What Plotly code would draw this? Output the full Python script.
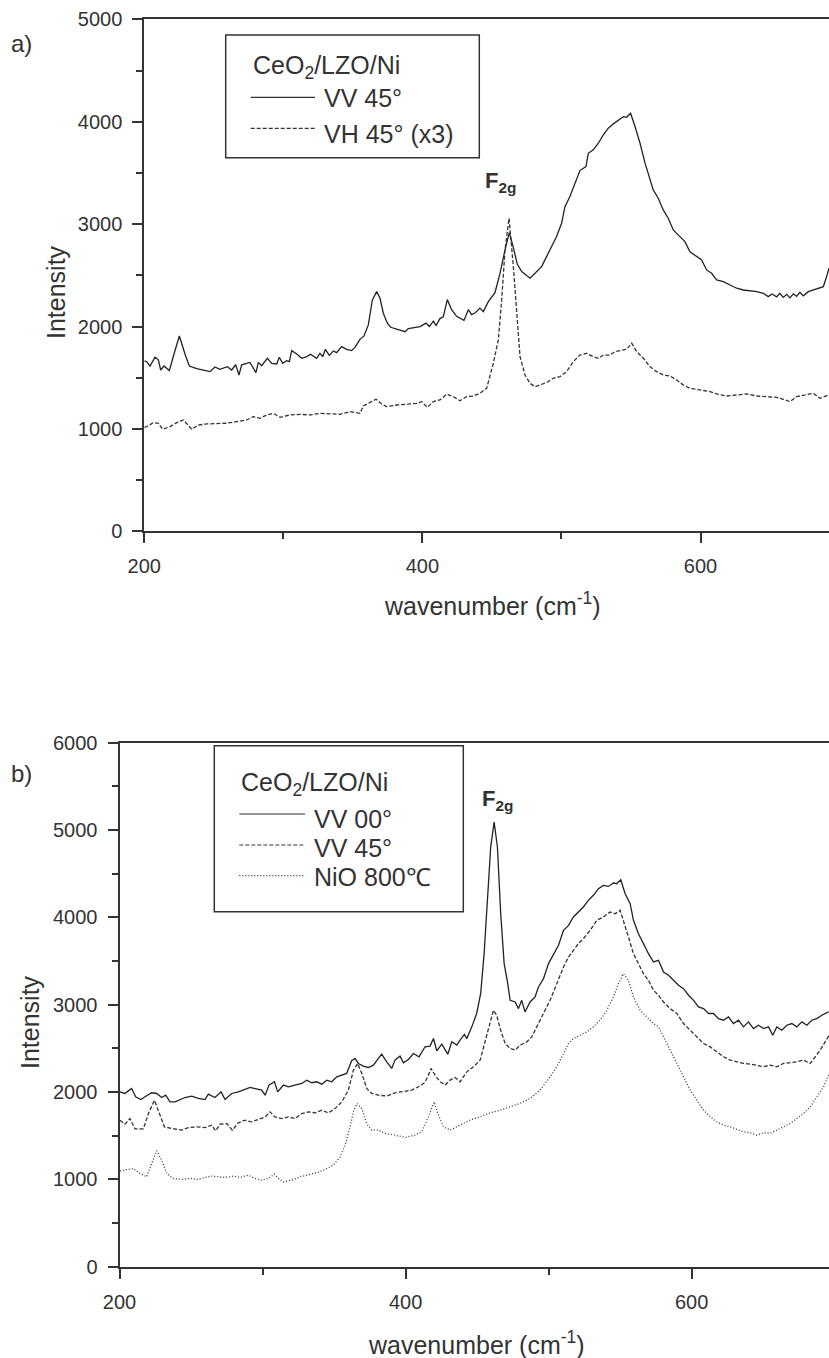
import plotly.graph_objects as go

W, H = 829, 1358

# ---------------- panel a) data ----------------
a_vv45_x = [200.0, 201.7, 204.1, 207.7, 210.1, 211.8, 214.2, 218.0, 220.9, 225.2, 229.3, 232.4, 237.7, 244.8, 247.2,
            250.8, 254.4, 259.7, 262.8, 265.7, 268.1, 270.0, 276.0, 280.3, 282.0, 284.4, 288.5, 291.6, 295.2, 297.1,
            299.5, 302.4, 304.3, 306.0, 309.6, 313.2, 316.8, 319.6, 323.9, 326.3, 328.3, 330.2, 333.1, 335.9, 338.3,
            341.9, 345.5, 349.1, 351.5, 355.1, 358.0, 361.1, 364.0, 367.1, 369.5, 371.9, 374.8, 377.2, 381.5, 387.5,
            389.9, 393.5, 398.3, 402.6, 405.0, 407.9, 409.8, 412.6, 415.0, 417.9, 421.0, 424.6, 427.0, 429.9, 433.0,
            435.4, 437.8, 441.4, 443.8, 447.4, 452.2, 455.8, 459.4, 462.5, 465.4, 468.2, 471.4, 475.0, 477.4, 481.0,
            485.7, 489.3, 492.9, 496.5, 500.1, 502.5, 506.1, 509.7, 513.3, 517.6, 519.3, 522.9, 526.5, 530.1, 533.7,
            537.3, 540.9, 544.5, 546.9, 549.7, 552.9, 556.5, 560.1, 563.6, 566.0, 569.6, 573.2, 576.8, 580.4, 585.2,
            588.8, 592.4, 597.2, 600.8, 604.4, 608.0, 611.6, 616.4, 621.2, 626.0, 630.8, 635.6, 640.4, 645.2, 648.7,
            651.5, 654.7, 657.0, 659.5, 662.0, 664.3, 666.8, 669.1, 671.5, 673.9, 677.5, 681.1, 684.7, 688.3, 690.7,
            692.4]
a_vv45_y = [1665, 1657, 1615, 1700, 1675, 1576, 1615, 1570, 1710, 1908, 1730, 1615, 1590, 1568, 1560,
            1605, 1583, 1608, 1576, 1627, 1527, 1627, 1650, 1550, 1650, 1618, 1690, 1641, 1635, 1700,
            1641, 1667, 1657, 1765, 1732, 1690, 1706, 1729, 1690, 1739, 1706, 1778, 1719, 1762, 1745,
            1804, 1778, 1765, 1797, 1875, 1908, 2016, 2260, 2341, 2276, 2130, 2032, 1993, 1973, 1950,
            1980, 1990, 2000, 2034, 2000, 2053, 2010, 2078, 2095, 2263, 2165, 2100, 2083, 2060, 2165,
            2116, 2132, 2180, 2146, 2243, 2331, 2520, 2748, 2917, 2771, 2611, 2537, 2494, 2472, 2520,
            2585, 2683, 2781, 2879, 3009, 3171, 3269, 3399, 3523, 3562, 3692, 3725, 3790, 3871, 3937,
            3979, 4018, 4050, 4043, 4083, 3953, 3790, 3595, 3432, 3334, 3253, 3139, 3058, 2943, 2878,
            2829, 2731, 2683, 2650, 2553, 2520, 2455, 2439, 2406, 2374, 2357, 2351, 2341, 2325, 2292,
            2318, 2290, 2325, 2285, 2315, 2280, 2320, 2295, 2335, 2300, 2341, 2357, 2374, 2390, 2488,
            2569]

a_vh45_x = [200.0, 201.7, 206.5, 210.1, 213.2, 218.5, 223.3, 228.1, 234.1, 238.9, 244.8, 252.0, 259.2, 266.4,
            273.6, 278.4, 283.2, 288.0, 292.8, 297.6, 304.8, 312.0, 319.2, 326.3, 333.5, 340.7, 347.9, 355.1,
            357.5, 362.3, 366.6, 370.7, 374.3, 381.5, 388.7, 395.9, 399.5, 403.5, 407.8, 412.6, 417.4, 422.2,
            427.0, 431.8, 436.6, 441.4, 446.2, 451.0, 454.6, 457.0, 459.4, 462.3, 465.4, 467.8, 470.2, 473.8,
            477.4, 481.0, 484.5, 489.3, 494.1, 498.9, 503.7, 508.5, 513.3, 518.1, 522.9, 526.5, 530.1, 534.9,
            538.5, 542.1, 546.9, 550.5, 554.1, 558.9, 563.6, 568.4, 573.2, 578.0, 582.8, 587.6, 592.4, 599.6,
            606.8, 611.6, 618.8, 626.0, 633.2, 640.4, 647.6, 654.7, 659.5, 664.3, 669.1, 676.3, 681.1, 685.9,
            692.4]
a_vh45_y = [1015, 1023, 1062, 1056, 997, 1023, 1062, 1088, 997, 1039, 1049, 1056, 1056, 1072,
            1088, 1120, 1104, 1137, 1153, 1114, 1137, 1143, 1137, 1153, 1146, 1143, 1169, 1153,
            1225, 1257, 1290, 1244, 1218, 1234, 1244, 1250, 1267, 1211, 1267, 1283, 1339, 1316,
            1276, 1316, 1322, 1349, 1397, 1642, 1870, 2260, 2748, 3058, 2585, 2130, 1707, 1527,
            1446, 1413, 1430, 1453, 1495, 1511, 1560, 1657, 1722, 1739, 1706, 1690, 1722, 1722,
            1755, 1765, 1778, 1838, 1755, 1691, 1609, 1560, 1527, 1517, 1479, 1430, 1397, 1381,
            1365, 1342, 1322, 1332, 1342, 1322, 1316, 1309, 1290, 1267, 1316, 1332, 1348, 1300,
            1333]

# ---------------- panel b) data ----------------
b_vv00_x = [200.3, 203.8, 206.2, 208.5, 211.3, 215.0, 217.8, 222.5, 226.0, 229.5, 232.3, 235.3, 238.8, 242.3,
            245.8, 250.5, 255.1, 259.8, 262.1, 266.8, 271.0, 273.8, 278.4, 283.1, 287.8, 291.3, 294.8, 299.4,
            301.8, 304.5, 308.3, 310.6, 314.6, 318.1, 322.7, 327.4, 330.9, 334.4, 337.9, 341.4, 344.9, 348.4,
            351.9, 355.4, 358.8, 362.3, 364.7, 367.0, 370.5, 374.0, 377.5, 381.0, 383.3, 386.8, 390.3, 392.6,
            396.1, 398.5, 402.0, 405.5, 409.4, 413.6, 417.1, 419.5, 421.8, 425.3, 429.5, 432.3, 435.8, 438.1,
            441.1, 442.8, 446.3, 449.7, 452.5, 454.9, 457.2, 459.5, 461.9, 464.2, 466.5, 468.9, 471.2, 473.1,
            476.6, 478.9, 481.2, 483.5, 487.0, 490.5, 492.9, 496.4, 499.9, 503.4, 506.9, 510.4, 513.9, 517.3,
            520.8, 524.3, 527.8, 531.3, 534.8, 538.3, 541.8, 545.3, 547.6, 550.4, 553.5, 557.0, 559.3, 562.8,
            566.3, 569.8, 573.3, 576.8, 580.3, 583.8, 587.3, 590.8, 594.3, 597.8, 601.3, 604.8, 608.3, 611.8,
            615.2, 618.7, 622.2, 625.7, 629.2, 632.7, 636.2, 639.7, 643.2, 646.7, 650.2, 653.7, 656.7, 659.5,
            663.0, 666.5, 670.0, 673.5, 677.0, 680.5, 684.0, 687.5, 691.0, 695.7]
b_vv00_y = [2000, 1981, 2011, 2038, 1943, 1912, 1943, 1989, 1981, 1935, 1962, 1885, 1885, 1912,
            1935, 1951, 1924, 1912, 1973, 1935, 2000, 1912, 1981, 2000, 2027, 2050, 2038, 2019,
            1962, 2077, 2115, 2000, 2077, 2058, 2077, 2096, 2134, 2104, 2115, 2088, 2134, 2115,
            2172, 2191, 2211, 2356, 2382, 2325, 2294, 2279, 2305, 2382, 2431, 2344, 2268, 2363,
            2409, 2332, 2371, 2439, 2401, 2516, 2524, 2611, 2470, 2546, 2431, 2573, 2535, 2592,
            2657, 2610, 2744, 2897, 3126, 3582, 4231, 4803, 5089, 4803, 4040, 3468, 3258, 3048,
            3029, 2953, 3048, 2915, 3029, 3086, 3201, 3296, 3468, 3582, 3678, 3849, 3906, 4002,
            4059, 4117, 4193, 4250, 4326, 4364, 4352, 4391, 4383, 4429, 4269, 4155, 3964, 3811,
            3697, 3582, 3487, 3506, 3372, 3334, 3277, 3220, 3182, 3106, 3048, 2972, 2953, 2897,
            2897, 2839, 2820, 2858, 2782, 2820, 2744, 2801, 2725, 2763, 2725, 2744, 2648, 2744,
            2706, 2763, 2782, 2744, 2801, 2763, 2820, 2839, 2877, 2915]

b_vv45_x = [200.3, 203.8, 207.3, 210.8, 216.7, 220.2, 224.4, 227.2, 231.4, 236.5, 243.5, 248.1, 254.0, 259.8,
            264.5, 267.2, 270.3, 275.0, 278.9, 283.1, 287.8, 292.4, 297.1, 301.8, 305.2, 308.7, 313.4, 318.1,
            322.7, 327.4, 332.0, 336.7, 341.4, 346.0, 350.7, 355.4, 360.0, 363.5, 366.5, 369.4, 372.8, 376.3,
            381.0, 386.8, 392.6, 398.5, 404.3, 409.0, 413.2, 415.5, 417.8, 420.6, 424.1, 427.6, 431.1, 434.6,
            438.1, 442.8, 447.4, 452.1, 455.6, 458.6, 461.4, 463.7, 466.1, 469.6, 473.1, 476.6, 480.0, 484.7,
            488.2, 491.7, 496.4, 501.0, 505.7, 510.4, 513.9, 517.3, 520.8, 524.3, 529.0, 533.7, 538.3, 543.0,
            546.5, 550.0, 552.3, 555.8, 559.3, 562.8, 566.3, 569.8, 573.3, 576.8, 580.3, 584.9, 589.6, 594.3,
            599.0, 603.6, 608.3, 613.0, 617.6, 622.3, 627.0, 631.6, 636.2, 640.9, 645.6, 650.2, 654.9, 659.5,
            664.2, 668.9, 673.5, 678.2, 682.9, 686.3, 689.8, 693.3, 696.1]
b_vv45_y = [1675, 1629, 1694, 1576, 1576, 1751, 1904, 1790, 1599, 1580, 1561, 1591, 1599, 1591,
            1618, 1553, 1629, 1637, 1561, 1645, 1675, 1656, 1683, 1713, 1771, 1713, 1694, 1713,
            1694, 1751, 1771, 1759, 1790, 1759, 1808, 1885, 2019, 2247, 2325, 2211, 2038, 1981,
            1962, 1951, 1989, 2000, 2019, 2058, 2104, 2172, 2268, 2191, 2115, 2077, 2134, 2165,
            2115, 2229, 2286, 2363, 2591, 2782, 2934, 2877, 2725, 2553, 2496, 2477, 2534, 2572,
            2629, 2744, 2897, 3048, 3239, 3430, 3544, 3620, 3697, 3754, 3849, 3964, 4002, 4059,
            4040, 4078, 3964, 3773, 3582, 3468, 3353, 3277, 3163, 3106, 3029, 2953, 2897, 2782,
            2706, 2629, 2553, 2515, 2458, 2401, 2363, 2344, 2325, 2318, 2306, 2287, 2306, 2287,
            2325, 2332, 2344, 2363, 2325, 2401, 2477, 2572, 2648]

b_nio_x = [200.3, 205.0, 209.7, 214.3, 219.0, 222.5, 226.0, 229.5, 233.0, 237.6, 243.5, 249.3, 255.1, 259.8,
           264.5, 269.1, 273.8, 279.6, 284.3, 290.1, 294.8, 299.4, 304.1, 308.3, 311.1, 314.6, 320.4, 326.2,
           332.0, 337.9, 343.7, 349.5, 354.2, 357.7, 361.2, 363.5, 365.9, 369.4, 372.8, 376.3, 381.0, 385.7,
           392.6, 399.6, 406.6, 411.3, 415.9, 419.9, 422.5, 426.5, 431.1, 438.1, 445.1, 452.1, 459.1, 466.1,
           473.1, 480.0, 487.0, 494.0, 501.0, 505.7, 510.4, 513.9, 517.3, 522.0, 526.7, 531.3, 536.0, 540.7,
           545.3, 548.8, 552.3, 555.8, 559.3, 564.0, 568.6, 573.3, 576.8, 580.3, 584.9, 589.6, 594.3, 599.0,
           603.6, 608.3, 613.0, 617.6, 622.3, 627.0, 631.6, 636.2, 640.9, 645.6, 650.2, 654.9, 659.5, 664.2,
           668.9, 673.5, 678.2, 682.9, 687.5, 692.2, 696.1]
b_nio_y = [1096, 1111, 1122, 1065, 1027, 1180, 1325, 1218, 1065, 1008, 997, 1008, 997, 1020,
           1035, 1027, 1020, 1035, 1020, 1046, 1008, 989, 1008, 1058, 1008, 970, 989, 1027,
           1046, 1073, 1111, 1161, 1256, 1390, 1599, 1771, 1866, 1809, 1638, 1562, 1562, 1524,
           1504, 1478, 1504, 1543, 1713, 1885, 1752, 1600, 1562, 1619, 1676, 1714, 1760, 1791,
           1829, 1867, 1924, 2019, 2172, 2286, 2439, 2553, 2610, 2648, 2687, 2744, 2820, 2934,
           3086, 3239, 3353, 3277, 3086, 2934, 2858, 2782, 2744, 2629, 2477, 2325, 2172, 2019,
           1905, 1791, 1714, 1657, 1619, 1600, 1569, 1543, 1531, 1505, 1531, 1524, 1562, 1600,
           1638, 1695, 1752, 1829, 1943, 2057, 2210]

a_yticks = [0, 1000, 2000, 3000, 4000, 5000]
b_yticks = [0, 1000, 2000, 3000, 4000, 5000, 6000]
xticks = [200, 400, 600]

INK = "#333333"
FONT = "Liberation Sans, Arial, Helvetica, sans-serif"
DASH = "4px,2px"
DOT = "1px,2px"


def px(x):
    return x / W


def py(y):
    return 1 - y / H


fig = go.Figure()
fig.add_trace(go.Scatter(x=a_vv45_x, y=a_vv45_y, mode="lines", xaxis="x", yaxis="y",
                         line=dict(color="#222222", width=1.3), name="VV 45°", showlegend=False))
fig.add_trace(go.Scatter(x=a_vh45_x, y=a_vh45_y, mode="lines", xaxis="x", yaxis="y",
                         line=dict(color="#333333", width=1.3, dash=DASH), name="VH 45° (x3)", showlegend=False))
fig.add_trace(go.Scatter(x=b_vv00_x, y=b_vv00_y, mode="lines", xaxis="x2", yaxis="y2",
                         line=dict(color="#222222", width=1.3), name="VV 00°", showlegend=False))
fig.add_trace(go.Scatter(x=b_vv45_x, y=b_vv45_y, mode="lines", xaxis="x2", yaxis="y2",
                         line=dict(color="#333333", width=1.3, dash=DASH), name="VV 45°", showlegend=False))
fig.add_trace(go.Scatter(x=b_nio_x, y=b_nio_y, mode="lines", xaxis="x2", yaxis="y2",
                         line=dict(color="#333333", width=1.3, dash=DOT), name="NiO 800℃", showlegend=False))

axis_common = dict(showline=True, linecolor=INK, linewidth=2, ticks="outside", ticklen=10, tickwidth=2,
                   tickcolor=INK, showgrid=False, zeroline=False, automargin=False,
                   tickfont=dict(family=FONT, size=20, color=INK))

fig.update_layout(
    width=W, height=H, margin=dict(l=0, r=0, t=0, b=0, autoexpand=False),
    paper_bgcolor="white", plot_bgcolor="white",
    font=dict(family=FONT, color=INK),
    xaxis=dict(domain=[px(144.3), 1], range=[200, 692.4], anchor="y", tickvals=xticks, mirror=True,
               minor=dict(dtick=100, tick0=200, ticks="outside", ticklen=6, tickwidth=2, tickcolor=INK),
               ticklabelstandoff=6, **axis_common),
    yaxis=dict(domain=[py(531.4), py(19.3)], range=[0, 5000], anchor="x", tickvals=a_yticks,
               minor=dict(dtick=500, tick0=0, ticks="outside", ticklen=6, tickwidth=2, tickcolor=INK),
               ticklabelstandoff=6, **axis_common),
    xaxis2=dict(domain=[px(119.5), 1], range=[200, 696], anchor="y2", tickvals=xticks, mirror=True,
                minor=dict(dtick=100, tick0=200, ticks="outside", ticklen=6, tickwidth=2, tickcolor=INK),
                ticklabelstandoff=6, **axis_common),
    yaxis2=dict(domain=[py(1266.5), py(742.5)], range=[0, 6000], anchor="x2", tickvals=b_yticks,
                minor=dict(dtick=500, tick0=0, ticks="outside", ticklen=6, tickwidth=2, tickcolor=INK),
                ticklabelstandoff=6, **axis_common),
)

ann = []
shapes = []


def text(s, x, y, size, xanchor="center", angle=0):
    ann.append(dict(text=s, x=px(x), y=py(y), xref="paper", yref="paper", showarrow=False,
                    xanchor=xanchor, yanchor="middle", textangle=angle,
                    font=dict(family=FONT, size=size, color=INK)))


def legend_line(x0, x1, y, dash):
    shapes.append(dict(type="line", xref="paper", yref="paper", x0=px(x0), x1=px(x1), y0=py(y), y1=py(y),
                       line=dict(color=INK, width=1.2, dash=dash)))


def box(x0, x1, y0, y1):
    shapes.append(dict(type="rect", xref="paper", yref="paper", x0=px(x0), x1=px(x1), y0=py(y1), y1=py(y0),
                       line=dict(color=INK, width=1.5), fillcolor="rgba(0,0,0,0)"))


# panel labels and axis titles
text("a)", 21, 43, 24)
text("b)", 21, 773, 24)
text("Intensity", 56, 292, 25, angle=-90)
text("Intensity", 30, 1022, 25, angle=-90)
text("wavenumber (cm<sup>-1</sup>)", 492, 604, 25)
text("wavenumber (cm<sup>-1</sup>)", 476, 1343, 25)

# peak labels
text("<b>F</b><sub><b>2g</b></sub>", 483, 182, 22, xanchor="left")
text("<b>F</b><sub><b>2g</b></sub>", 480, 800, 22, xanchor="left")

# legend a
box(225.7, 479.3, 35, 157.7)
text("CeO<sub>2</sub>/LZO/Ni", 250.7, 67, 25, xanchor="left")
legend_line(250.7, 315, 97.3, None)
text("VV 45°", 322, 98, 25, xanchor="left")
legend_line(250.7, 315, 128.3, DASH)
text("VH 45° (x3)", 322, 134, 25, xanchor="left")

# legend b
box(214.3, 463.3, 745.7, 911.7)
text("CeO<sub>2</sub>/LZO/Ni", 239.3, 784, 25, xanchor="left")
legend_line(239.3, 305, 814, None)
text("VV 00°", 312, 819, 25, xanchor="left")
legend_line(239.3, 305, 845, DASH)
text("VV 45°", 312, 848, 25, xanchor="left")
legend_line(239.3, 305, 875.7, DOT)
text("NiO 800℃", 312, 877, 25, xanchor="left")

fig.update_layout(annotations=ann, shapes=shapes)
fig.write_html("out.html", config={"displayModeBar": False},
               post_script="document.body.style.margin='0';document.body.style.padding='0';"
                           "document.documentElement.style.overflow='hidden';")
